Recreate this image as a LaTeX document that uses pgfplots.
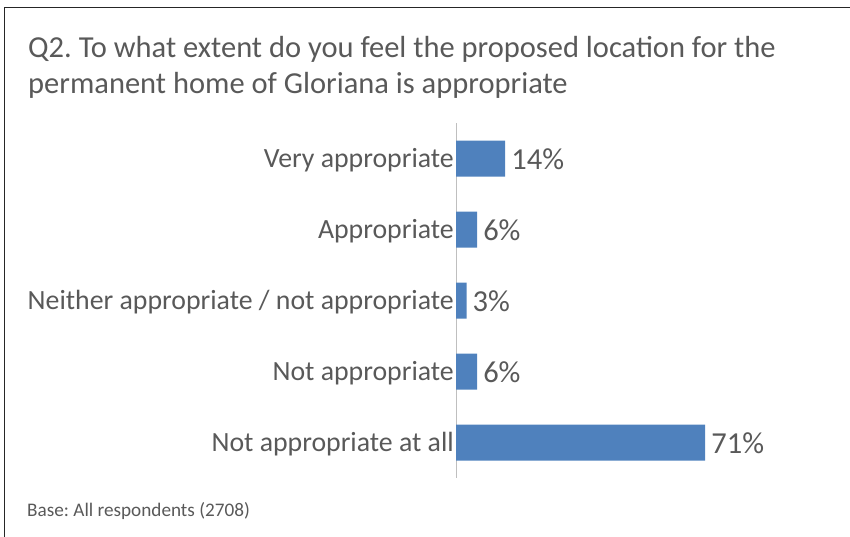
\documentclass[border=0pt]{standalone}
\usepackage{pgfplots}
\pgfplotsset{compat=1.18}
\usepackage{fontspec}
\setmainfont{Carlito}
\frenchspacing
\definecolor{barblue}{HTML}{4F81BD}
\definecolor{txt}{HTML}{595959}
\definecolor{axisgray}{HTML}{BFBFBF}
\begin{document}
\begin{tikzpicture}[x=1pt,y=1pt]
\useasboundingbox (0,0) rectangle (850,537);
\draw[line width=1.5pt, black!85] (4.5,0) -- (4.5,529.5) -- (850,529.5);
\node[anchor=base west, text=txt, font=\fontsize{30.5}{36}\selectfont, inner sep=0] at (28,479) {Q2. To what extent do you feel the proposed location for the};
\node[anchor=base west, text=txt, font=\fontsize{30.5}{36}\selectfont, inner sep=0] at (28,443) {permanent home of Gloriana is appropriate};
\node[anchor=base west, text=txt, font=\fontsize{19.2}{23}\selectfont, inner sep=0] at (27,20) {Base: All respondents (2708)};
\begin{axis}[at={(456pt,59pt)}, anchor=south west, scale only axis,
  width=351pt, height=355pt,
  xmin=0, xmax=100, ymin=-0.5, ymax=4.5, y dir=reverse,
  xbar, bar width=36pt,
  axis x line=none, axis y line*=left,
  axis line style={draw=axisgray, line width=1pt},
  xtick=\empty,
  ytick={0,1,2,3,4},
  yticklabels={Very appropriate, Appropriate, Neither appropriate / not appropriate, Not appropriate, Not appropriate at all},
  major tick length=0pt,
  yticklabel style={text=txt, font=\fontsize{27.8}{33}\selectfont, inner sep=2pt, yshift=-1.5pt},
  point meta=x,
  /pgf/number format/assume math mode=true,
  nodes near coords={\pgfmathprintnumber{\pgfplotspointmeta}\%},
  nodes near coords style={text=txt, font=\fontsize{30.5}{33}\selectfont, anchor=west, inner sep=6pt, yshift=-1pt},
  clip=false]
\addplot[fill=barblue, draw=none] coordinates {(14,0) (6,1) (3,2) (6,3) (71,4)};
\end{axis}
\end{tikzpicture}
\end{document}
